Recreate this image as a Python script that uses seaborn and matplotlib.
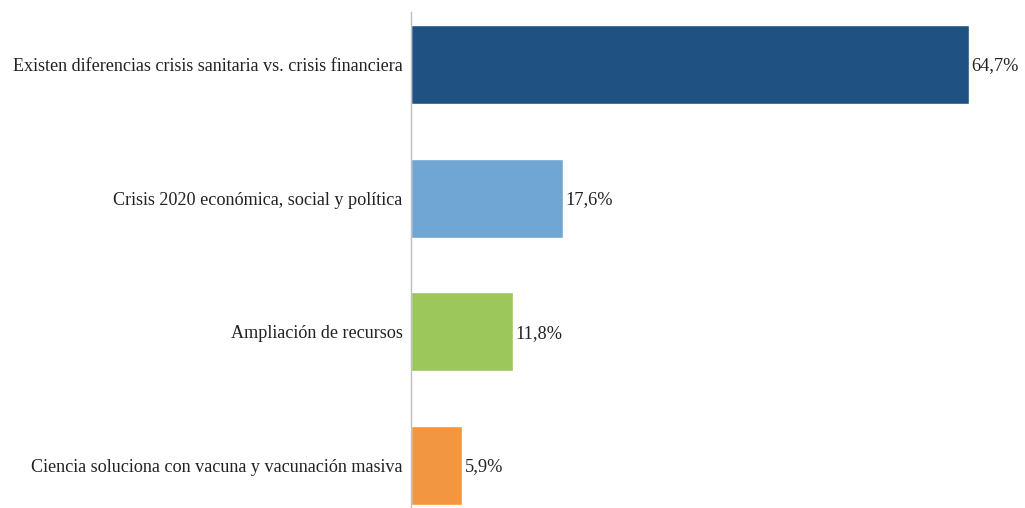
import matplotlib
matplotlib.use("Agg")
import matplotlib.pyplot as plt
import seaborn as sns
import pandas as pd

categorias = ["Existen diferencias crisis sanitaria vs. crisis financiera",
              "Crisis 2020 económica, social y política",
              "Ampliación de recursos",
              "Ciencia soluciona con vacuna y vacunación masiva"]
valores = [64.7, 17.6, 11.8, 5.9]
etiquetas = ["64,7%", "17,6%", "11,8%", "5,9%"]
colores = ["#1F5282", "#6FA6D4", "#9BC75B", "#F39640"]

df = pd.DataFrame({"cat": categorias, "val": valores})

sns.set_style("white")
plt.rcParams["font.family"] = ["Liberation Serif", "DejaVu Serif"]

fig = plt.figure(figsize=(10.25, 5.08), dpi=100)
ax = fig.add_axes([411 / 1025, 0, 614 / 1025, 496 / 508])
sns.barplot(data=df, x="val", y="cat", hue="cat", palette=colores, legend=False,
            width=0.59, ax=ax, saturation=1)

for i, (v, t) in enumerate(zip(valores, etiquetas)):
    ax.text(v + 0.3, i + 0.01, t, va="center", ha="left", fontsize=13.2, color="#222222")

ax.set_xlim(0, 71.2)
ax.set_ylim(3.318, -0.393)
ax.set_xlabel("")
ax.set_ylabel("")
ax.set_xticks([])
ax.tick_params(axis="y", length=0, pad=6, labelsize=13.1, labelcolor="#222222")
for s in ["top", "right", "bottom"]:
    ax.spines[s].set_visible(False)
ax.spines["left"].set_color("#BFBFBF")
ax.spines["left"].set_linewidth(1)

fig.savefig("out.png", dpi=100)
